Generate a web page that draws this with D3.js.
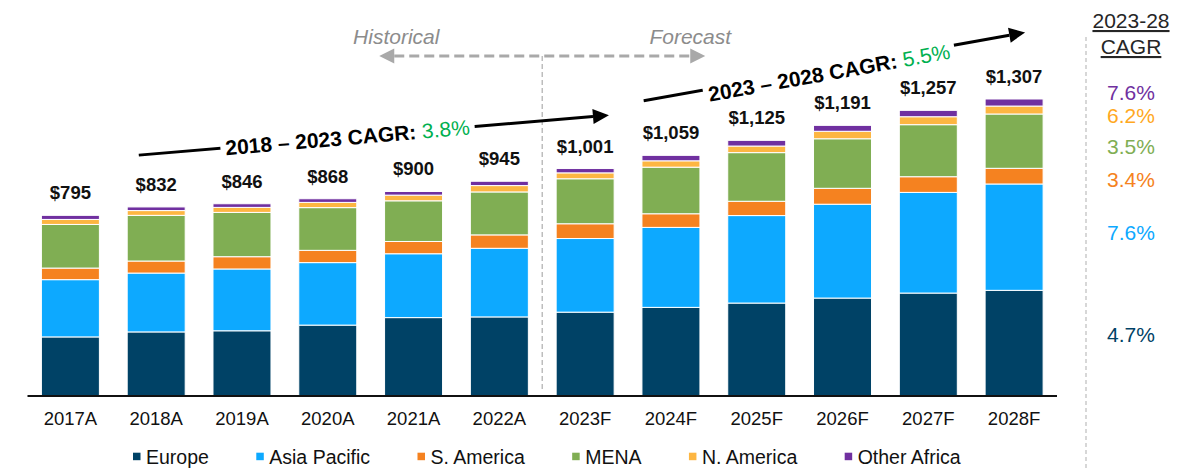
<!DOCTYPE html>
<html>
<head>
<meta charset="utf-8">
<script src="https://cdn.jsdelivr.net/npm/d3@7"></script>
<style>
  html, body { margin: 0; padding: 0; background: #fff; }
  svg { display: block; font-family: "Liberation Sans", Arial, Helvetica, sans-serif; }
</style>
</head>
<body>
<svg id="chart" width="1191" height="469"></svg>
<script>
// ---- data (US$ m) ----
const years = ["2017A", "2018A", "2019A", "2020A", "2021A", "2022A",
               "2023F", "2024F", "2025F", "2026F", "2027F", "2028F"];
const europe       = [260, 282, 287, 312, 345, 348, 369, 390, 409, 431, 453, 465];
const asiaPacific  = [252, 259, 272, 275, 281, 302, 324, 352, 385, 413, 443, 468];
const southAmerica = [ 51,  53,  54,  54,  54,  59,  65,  60,  63,  70,  69,  69];
const mena         = [192, 201, 195, 188, 179, 189, 198, 205, 214, 218, 229, 239];
const northAmerica = [ 22,  21,  22,  23,  25,  28,  26,  28,  29,  33,  35,  35];
const otherAfrica  = [ 18,  16,  16,  16,  16,  19,  19,  24,  25,  26,  28,  31];
const seriesNames  = ["Europe", "Asia Pacific", "S. America", "MENA", "N. America", "Other Africa"];
const seriesCagr   = ["4.7%", "7.6%", "3.4%", "3.5%", "6.2%", "7.6%"];
const periodCagr   = [
  { label: "2018 \u2013 2023 CAGR: ", value: "3.8%" },
  { label: "2023 \u2013 2028 CAGR: ", value: "5.5%" }
];
const cagrHeader = ["2023-28", "CAGR"];

// ---- styling / layout ----
const colors = ["#004266", "#0DA9FF", "#F58220", "#80AE53", "#FDB642", "#7030A0"];
const cagrTextColors = ["#004266", "#0DA9FF", "#F58220", "#80AE53", "#FFA81E", "#7030A0"];
const cagrTextY = [341.5, 240, 187, 154, 123, 100];   // baselines of the right-hand CAGR column

const svg = d3.select("#chart");
const baseY = 396;

const seriesValues = [europe, asiaPacific, southAmerica, mena, northAmerica, otherAfrica];
const rows = years.map((yr, i) => {
  const r = { year: yr };
  seriesNames.forEach((s, k) => { r[s] = seriesValues[k][i]; });
  return r;
});
const stacked = d3.stack().keys(seriesNames)(rows);

const x = d3.scaleBand()
  .domain(years)
  .range([27.5, 1057])
  .paddingInner(0.324)
  .paddingOuter(0.162);

const y = d3.scaleLinear()
  .domain([0, 1307])
  .range([baseY, 99]);

// ---- stacked bars ----
svg.append("g")
  .selectAll("g")
  .data(stacked)
  .join("g")
    .attr("fill", (d, i) => colors[i])
  .selectAll("rect")
  .data(d => d)
  .join("rect")
    .attr("x", d => x(d.data.year))
    .attr("y", d => y(d[1]))
    .attr("width", x.bandwidth())
    .attr("height", d => y(d[0]) - y(d[1]))
    .attr("stroke", "#fff")
    .attr("stroke-width", 1);

// ---- totals above bars ----
const topLayer = stacked[stacked.length - 1];
svg.append("g")
  .selectAll("text")
  .data(topLayer)
  .join("text")
    .attr("x", d => x(d.data.year) + x.bandwidth() / 2)
    .attr("y", d => y(d[1]) - 16)
    .attr("text-anchor", "middle")
    .attr("font-size", 18.5)
    .attr("font-weight", "bold")
    .attr("fill", "#111")
    .text(d => "$" + d3.format(",")(d[1]));

// ---- x axis ----
const xAxis = svg.append("g")
  .attr("transform", `translate(0,${baseY})`)
  .call(d3.axisBottom(x).tickSize(0).tickPadding(0));
xAxis.select(".domain").attr("stroke", "#111").attr("stroke-width", 2).attr("d", `M27.5,0H1057`);
xAxis.selectAll(".tick text")
  .attr("font-family", "Liberation Sans, Arial, sans-serif")
  .attr("font-size", 18.5)
  .attr("fill", "#111")
  .attr("dy", null)
  .attr("y", 29);

// ---- historical / forecast divider ----
const gapMid = (x("2022A") + x.bandwidth() + x("2023F")) / 2;
const arrowY = 56;
svg.append("line")
  .attr("x1", gapMid).attr("x2", gapMid)
  .attr("y1", arrowY).attr("y2", 391)
  .attr("stroke", "#bdbdbd").attr("stroke-width", 1.5)
  .attr("stroke-dasharray", "5,3");

const grey = "#a9a9a9";
const span = 163, head = 15;
svg.append("line")
  .attr("x1", gapMid - span + head).attr("x2", gapMid + span - head)
  .attr("y1", arrowY).attr("y2", arrowY)
  .attr("stroke", grey).attr("stroke-width", 3)
  .attr("stroke-dasharray", "10,5");
[-1, 1].forEach(dir => {
  const tip = gapMid + dir * span;
  svg.append("path")
    .attr("d", `M${tip},${arrowY} L${tip - dir * head},${arrowY - 7.5} L${tip - dir * head},${arrowY + 7.5} Z`)
    .attr("fill", grey);
});
svg.append("text")
  .attr("x", gapMid - 146).attr("y", 44)
  .attr("text-anchor", "middle").attr("font-style", "italic")
  .attr("font-size", 21).attr("fill", "#8c8c8c")
  .text("Historical");
svg.append("text")
  .attr("x", gapMid + 148).attr("y", 44)
  .attr("text-anchor", "middle").attr("font-style", "italic")
  .attr("font-size", 21).attr("fill", "#8c8c8c")
  .text("Forecast");

// ---- CAGR trend arrows ----
const arrows = [
  { from: ["2018A", 0.20, 1060], to: ["2023F", 0.91, 1236], t: 0.444, dy: 0 },
  { from: ["2024F", 0.03, 1299], to: ["2028F", 0.69, 1600], t: 0.484, dy: 5 }
];
arrows.forEach((a, i) => {
  const x1 = x(a.from[0]) + a.from[1] * x.bandwidth(), y1 = y(a.from[2]);
  const x2 = x(a.to[0]) + a.to[1] * x.bandwidth(),     y2 = y(a.to[2]);
  const ang = Math.atan2(y2 - y1, x2 - x1);
  const deg = ang * 180 / Math.PI;
  const hl = 16, hw = 7.5;
  const bx = x2 - hl * Math.cos(ang), by = y2 - hl * Math.sin(ang);
  svg.append("line")
    .attr("x1", x1).attr("y1", y1).attr("x2", bx).attr("y2", by)
    .attr("stroke", "#000").attr("stroke-width", 3);
  const px = -Math.sin(ang), py = Math.cos(ang);
  svg.append("path")
    .attr("d", `M${x2},${y2} L${bx + px * hw},${by + py * hw} L${bx - px * hw},${by - py * hw} Z`)
    .attr("fill", "#000");

  const cx = x1 + a.t * (x2 - x1), cy = y1 + a.t * (y2 - y1);
  const g = svg.append("g").attr("transform", `translate(${cx},${cy}) rotate(${deg})`);
  const txt = g.append("text")
    .attr("text-anchor", "middle")
    .attr("y", a.dy)
    .attr("dy", "0.36em")
    .attr("font-size", 21);
  txt.append("tspan").attr("font-weight", "bold").attr("fill", "#000").text(periodCagr[i].label);
  txt.append("tspan").attr("fill", "#00B050").text(periodCagr[i].value);
  const bb = txt.node().getBBox();
  g.insert("rect", "text")
    .attr("x", bb.x - 5).attr("y", bb.y + 2)
    .attr("width", bb.width + 10).attr("height", bb.height - 4)
    .attr("fill", "#fff");
});

// ---- right-hand CAGR column ----
const colX = 1131;
svg.append("line")
  .attr("x1", 1086).attr("x2", 1086)
  .attr("y1", 37).attr("y2", 469)
  .attr("stroke", "#bdbdbd").attr("stroke-width", 1.2)
  .attr("stroke-dasharray", "4,3");
cagrHeader.forEach((h, i) => {
  svg.append("text")
    .attr("x", colX).attr("y", i === 0 ? 28 : 54)
    .attr("text-anchor", "middle")
    .attr("font-size", 21).attr("fill", "#262626")
    .attr("text-decoration", "underline")
    .text(h);
});
svg.append("g")
  .selectAll("text")
  .data(seriesCagr)
  .join("text")
    .attr("x", colX)
    .attr("y", (d, i) => cagrTextY[i])
    .attr("text-anchor", "middle")
    .attr("font-size", 21)
    .attr("fill", (d, i) => cagrTextColors[i])
    .text(d => d);

// ---- legend ----
const legend = svg.append("g");
let lx = 133;
seriesNames.forEach((name, i) => {
  legend.append("rect")
    .attr("x", lx).attr("y", 452.7)
    .attr("width", 7.5).attr("height", 7.5)
    .attr("fill", colors[i]);
  const t = legend.append("text")
    .attr("x", lx + 13).attr("y", 463.5)
    .attr("font-size", 19.5).attr("fill", "#111")
    .text(name);
  lx += 13 + t.node().getComputedTextLength() + 47.4;
});
</script>
</body>
</html>
